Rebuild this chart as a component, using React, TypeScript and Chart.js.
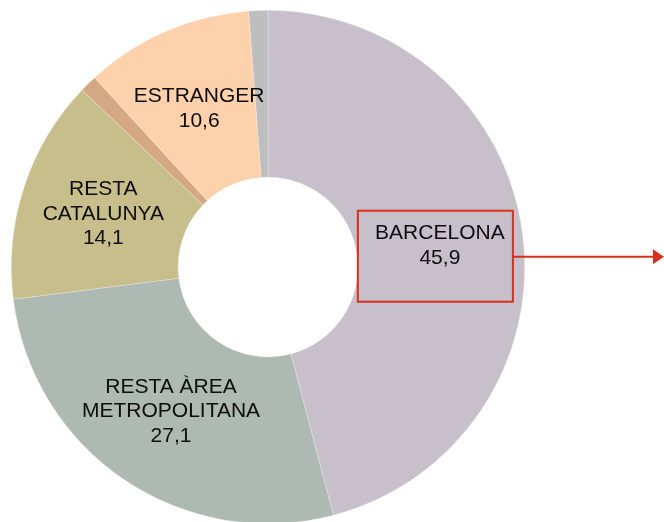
import React, { useEffect, useRef } from "react";
import { Chart, registerables } from "chart.js";

Chart.register(...registerables);

const categories = [
  "BARCELONA",
  "RESTA ÀREA METROPOLITANA",
  "RESTA CATALUNYA",
  "RESTA ESPANYA",
  "ESTRANGER",
  "NO CONSTA",
];
const values = [45.9, 27.1, 14.1, 1.1, 10.6, 1.2];
const labelLines: (string[] | null)[] = [
  ["BARCELONA"],
  ["RESTA ÀREA", "METROPOLITANA"],
  ["RESTA", "CATALUNYA"],
  null,
  ["ESTRANGER"],
  null,
];
const colors = ["#C7C0CB", "#ADB9B2", "#C7BE8C", "#D4A883", "#FCD1AC", "#BEBEBF"];
const highlightIndex = 0;

const fmt = (v: number) => v.toFixed(1).replace(".", ",");

const labelPlugin = {
  id: "sliceLabels",
  afterDatasetsDraw(chart: any) {
    const ctx = chart.ctx;
    const meta = chart.getDatasetMeta(0);
    const lineH = 24.5;
    ctx.save();
    ctx.font = "21px 'Liberation Sans', Arial, sans-serif";
    ctx.fillStyle = "#0d0d0d";
    ctx.textAlign = "center";
    ctx.textBaseline = "middle";
    meta.data.forEach((arc: any, i: number) => {
      const lines = labelLines[i];
      if (!lines) return;
      const all = [...lines, fmt(values[i])];
      const p = arc.tooltipPosition();
      const y0 = p.y - ((all.length - 1) * lineH) / 2;
      all.forEach((t, k) => ctx.fillText(t, p.x, y0 + k * lineH + 1));
    });

    // highlight box + arrow
    const arc = meta.data[highlightIndex];
    if (arc) {
      const p = arc.tooltipPosition();
      const red = "#D9301C";
      ctx.strokeStyle = red;
      ctx.lineWidth = 2;
      const left = p.x - 82;
      const right = p.x + 73;
      const top = p.y - 34;
      const bottom = p.y + 57;
      ctx.strokeRect(left, top, right - left, bottom - top);
      const ay = p.y + 12;
      const tipX = chart.width;
      ctx.beginPath();
      ctx.moveTo(right, ay);
      ctx.lineTo(tipX - 9, ay);
      ctx.stroke();
      ctx.fillStyle = red;
      ctx.beginPath();
      ctx.moveTo(tipX, ay);
      ctx.lineTo(tipX - 11, ay - 7.5);
      ctx.lineTo(tipX - 11, ay + 7.5);
      ctx.closePath();
      ctx.fill();
    }
    ctx.restore();
  },
};

export default function App() {
  const ref = useRef<HTMLCanvasElement>(null);
  useEffect(() => {
    if (!ref.current) return;
    const chart = new Chart(ref.current, {
      type: "doughnut",
      data: {
        labels: categories,
        datasets: [
          {
            data: values,
            backgroundColor: colors,
            borderColor: "rgba(255,255,255,0.5)",
            borderWidth: 0.5,
            hoverOffset: 0,
            offset: 0,
          },
        ],
      },
      options: {
        responsive: false,
        animation: false,
        devicePixelRatio: 1,
        cutout: "35%",
        layout: { padding: { left: 11, top: 10, right: 139, bottom: 11 } },
        plugins: {
          legend: { display: false },
          tooltip: { enabled: false },
        },
      },
      plugins: [labelPlugin],
    });
    return () => chart.destroy();
  }, []);
  return (
    <div
      style={{
        position: "fixed",
        top: 0,
        left: 0,
        width: 664,
        height: 522,
        overflow: "hidden",
        background: "#fff",
      }}
    >
      <canvas ref={ref} width={664} height={535} style={{ display: "block", width: 664, height: 535 }} />
    </div>
  );
}
